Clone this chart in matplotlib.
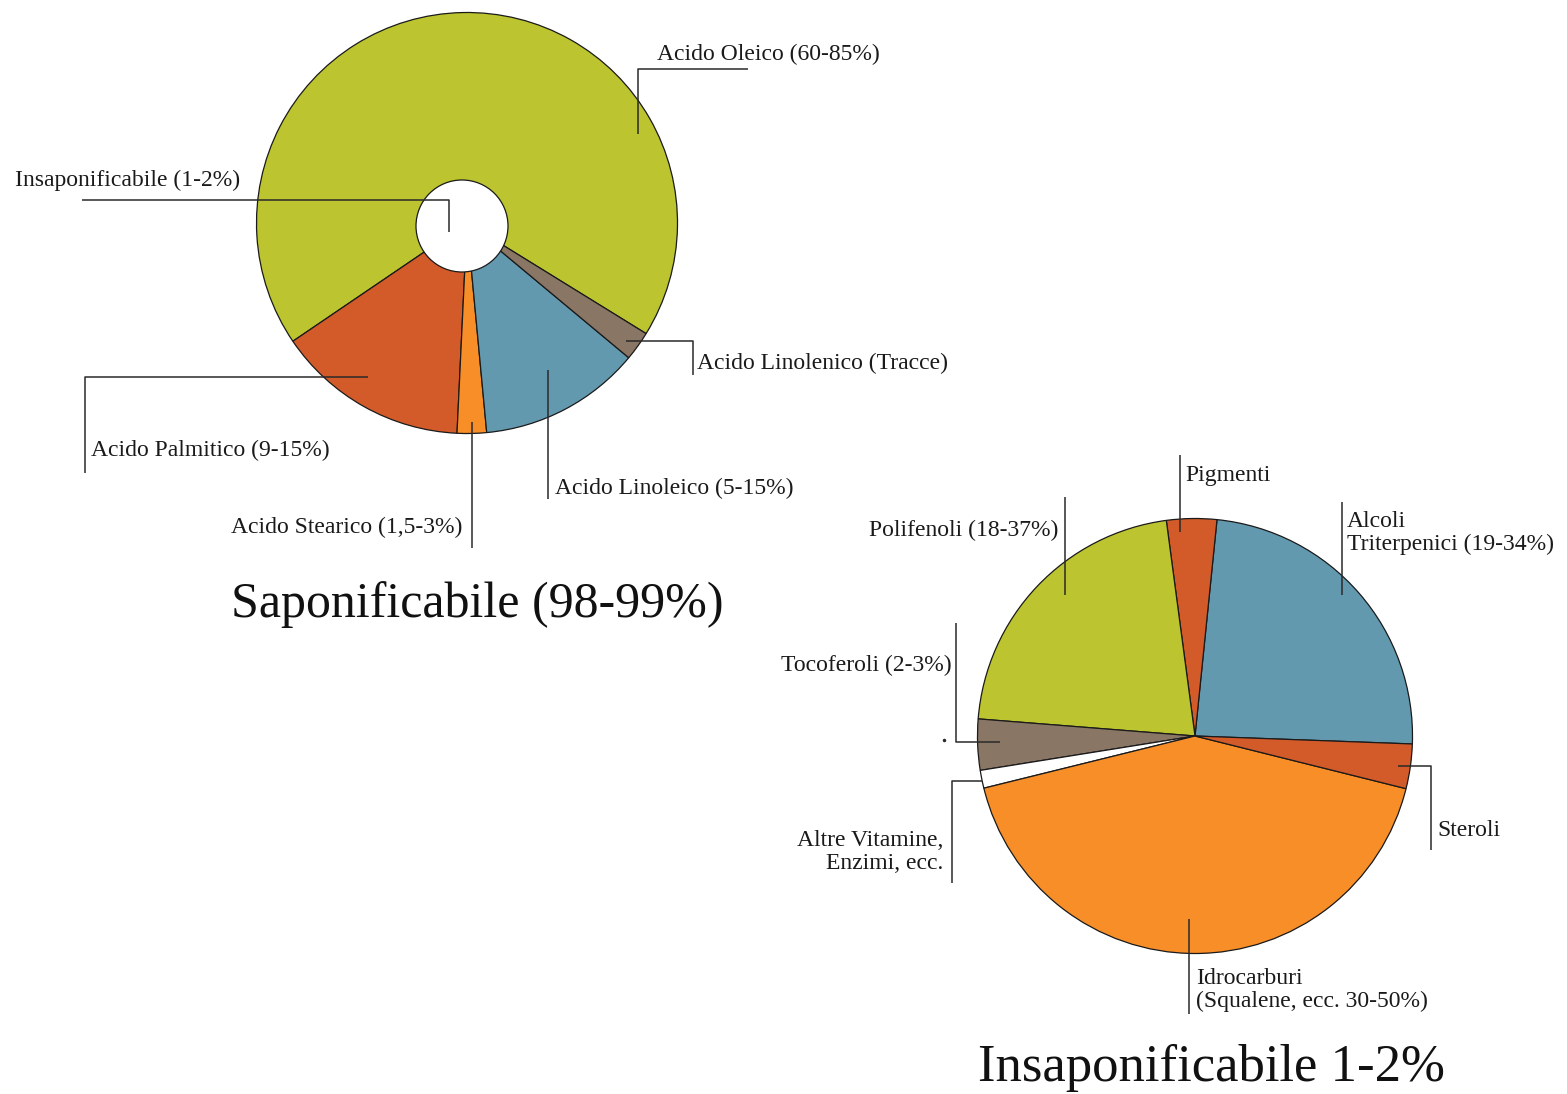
import matplotlib
matplotlib.use("Agg")
import matplotlib.pyplot as plt
from matplotlib.patches import Circle

W, H = 1567, 1094
plt.rcParams['font.family'] = ['Liberation Serif', 'DejaVu Serif']

# saponifiable fraction (share of the ring, in %)
sap_names = ["Acido Oleico", "Acido Palmitico", "Acido Stearico",
             "Acido Linoleico", "Acido Linolenico"]
sap_values = [68.3, 14.75, 2.25, 12.45, 2.25]
sap_colors = ["#bcc42f", "#d35b29", "#f88e28", "#6399af", "#8a7664"]
sap_labels = ["Acido Oleico (60-85%)", "Acido Palmitico (9-15%)",
              "Acido Stearico (1,5-3%)", "Acido Linoleico (5-15%)",
              "Acido Linolenico (Tracce)"]

# unsaponifiable fraction
ins_names = ["Alcoli Triterpenici", "Pigmenti", "Polifenoli", "Tocoferoli",
             "Altre Vitamine", "Idrocarburi", "Steroli"]
ins_values = [23.97, 3.72, 21.64, 3.78, 1.33, 42.25, 3.31]
ins_colors = ["#6399af", "#d35b29", "#bcc42f", "#8a7664", "#ffffff",
              "#f88e28", "#d35b29"]
ins_labels = ["Alcoli\nTriterpenici (19-34%)", "Pigmenti", "Polifenoli (18-37%)",
              "Tocoferoli (2-3%)", "Altre Vitamine,\nEnzimi, ecc.",
              "Idrocarburi\n(Squalene, ecc. 30-50%)", "Steroli"]


def Y(y):
    return H - y


fig = plt.figure(figsize=(W / 100, H / 100), dpi=100)
ax = fig.add_axes([0, 0, 1, 1])

wedge_kw = dict(edgecolor="#1a1a1a", linewidth=0.9)
ax.pie(sap_values, colors=sap_colors, startangle=328.3, counterclock=True,
       center=(467, Y(223)), radius=210.5, wedgeprops=wedge_kw)
ax.add_patch(Circle((462, Y(226)), 46, facecolor="white",
                    edgecolor="#1a1a1a", linewidth=0.9, zorder=3))

ax.pie(ins_values, colors=ins_colors, startangle=357.9, counterclock=True,
       center=(1195, Y(736)), radius=217.5, wedgeprops=wedge_kw)

ax.set_xlim(0, W)
ax.set_ylim(0, H)
ax.set_aspect("equal")
ax.axis("off")

line_kw = dict(color="#2a2a2a", linewidth=1.1, zorder=4, solid_capstyle="butt")


def leader(xs, ys):
    ax.plot(xs, [Y(v) for v in ys], **line_kw)


txt_kw = dict(fontsize=17, color="#1a1a1a", zorder=5)

# leaders and labels, left chart
leader([82, 449, 449], [200, 200, 232])
ax.text(15, Y(180), "Insaponificabile (1-2%)", va="center", ha="left", **txt_kw)

leader([748, 638, 638], [69, 69, 134])
ax.text(657, Y(54), sap_labels[0], va="center", ha="left", **txt_kw)

leader([368, 85, 85], [377, 377, 473])
ax.text(91, Y(450), sap_labels[1], va="center", ha="left", **txt_kw)

leader([472, 472], [422, 548])
ax.text(462, Y(527), sap_labels[2], va="center", ha="right", **txt_kw)

leader([548, 548], [370, 499])
ax.text(555, Y(488), sap_labels[3], va="center", ha="left", **txt_kw)

leader([626, 693, 693], [341, 341, 375])
ax.text(697, Y(363), sap_labels[4], va="center", ha="left", **txt_kw)

ax.text(477, Y(605), "Saponificabile (98-99%)", va="center", ha="center",
        fontsize=36, color="#111111")

# leaders and labels, right chart
leader([1342, 1342], [502, 595])
ax.text(1347, Y(533), ins_labels[0], va="center", ha="left",
        linespacing=1.15, **txt_kw)

leader([1180, 1180], [455, 532])
ax.text(1185, Y(475), ins_labels[1], va="center", ha="left", **txt_kw)

leader([1065, 1065], [497, 595])
ax.text(1058, Y(530), ins_labels[2], va="center", ha="right", **txt_kw)

leader([956, 956, 1000], [623, 742, 742])
ax.text(952, Y(665), ins_labels[3], va="center", ha="right", **txt_kw)
ax.plot([944], [Y(740)], marker="o", markersize=1.5, color="#2a2a2a")

leader([982, 952, 952], [781, 781, 883])
ax.text(943, Y(852), ins_labels[4], va="center", ha="right",
        multialignment="right", linespacing=1.15, **txt_kw)

leader([1189, 1189], [919, 1014])
ax.text(1196, Y(990), ins_labels[5], va="center", ha="left",
        linespacing=1.15, **txt_kw)

leader([1398, 1431, 1431], [766, 766, 850])
ax.text(1437, Y(831), ins_labels[6], va="center", ha="left", **txt_kw)

ax.text(1211, Y(1068), "Insaponificabile 1-2%", va="center", ha="center",
        fontsize=38, color="#111111")

fig.savefig("out.png", dpi=100)
